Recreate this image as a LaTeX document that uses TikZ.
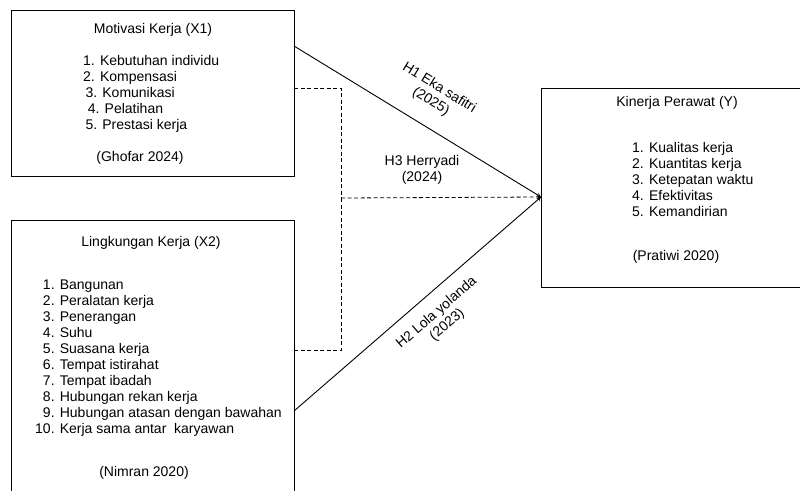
\documentclass[tikz,border=0pt]{standalone}
\usepackage{fontspec}
\setmainfont{Liberation Sans}
\usetikzlibrary{positioning}
\tikzstyle{varBox}=[draw,line width=1pt,rectangle,inner sep=0pt,anchor=north west]
\tikzstyle{boxText}=[font=\fontsize{14}{16}\selectfont,inner sep=0pt]
\tikzstyle{transition}=[-stealth, line width=0.9pt]
\tikzstyle{link}=[line width=0.8pt,dash pattern=on 4pt off 2.5pt]

\begin{document}
\begin{tikzpicture}[x=1pt,y=-1pt]

    \useasboundingbox (0,0) rectangle (800,490);

    \node[varBox,minimum width=283pt,minimum height=166pt] (X1) at (11,10) {};
    \node[varBox,minimum width=283pt,minimum height=290pt] (X2) at (11,220) {};
    \node[varBox,minimum width=270pt,minimum height=199pt] (Y) at (541,88) {};

    \node[boxText] (X1title) at (153,30) {Motivasi Kerja (X1)};
    \node[boxText,align=left,anchor=west] (X1items) at (83,93.5) {1. Kebutuhan individu\\2. Kompensasi\\\,3. Komunikasi\\\,\,4. Pelatihan\\\,5. Prestasi kerja};
    \node[boxText] (X1src) at (140,158) {(Ghofar 2024)};

    \node[boxText] (X2title) at (151,243) {Lingkungan Kerja (X2)};
    \node[boxText,align=left,anchor=west] (X2items) at (35,358.5) {\phantom{1}1. Bangunan\\\phantom{1}2. Peralatan kerja\\\phantom{1}3. Penerangan\\\phantom{1}4. Suhu\\\phantom{1}5. Suasana kerja\\\phantom{1}6. Tempat istirahat\\\phantom{1}7. Tempat ibadah\\\phantom{1}8. Hubungan rekan kerja\\\phantom{1}9. Hubungan atasan dengan bawahan\\10. Kerja sama antar\ \ karyawan};
    \node[boxText] (X2src) at (144,473) {(Nimran 2020)};

    \node[boxText] (Ytitle) at (677,103) {Kinerja Perawat (Y)};
    \node[boxText,align=left,anchor=west] (Yitems) at (632,179) {1. Kualitas kerja\\2. Kuantitas kerja\\3. Ketepatan waktu\\4. Efektivitas\\5. Kemandirian};
    \node[boxText] (Ysrc) at (676,257) {(Pratiwi 2020)};

    \coordinate (target) at (541,197);
    \coordinate (h1start) at (294,46);
    \coordinate (h2start) at (294,411);
    \coordinate (d1) at (294,88);
    \coordinate (d2) at (294,350);
    \coordinate (joint) at (341,198);

    \draw[transition] (h1start) -- (target);
    \draw[transition] (h2start) -- (target);
    \node[boxText,align=center,rotate=-31.4] (H1) at (435,95) {H1 Eka safitri\\(2025)};
    \node[boxText,align=center,rotate=41] (H2) at (442,319) {H2 Lola yolanda\\(2023)};

    \draw[link] (d1) -| (joint);
    \draw[link] (d2) -| (joint);
    \draw[link,-stealth] (joint) -- (target);
    \node[boxText,align=center] (H3) at (422,170) {H3 Herryadi\\(2024)};

\end{tikzpicture}
\end{document}
